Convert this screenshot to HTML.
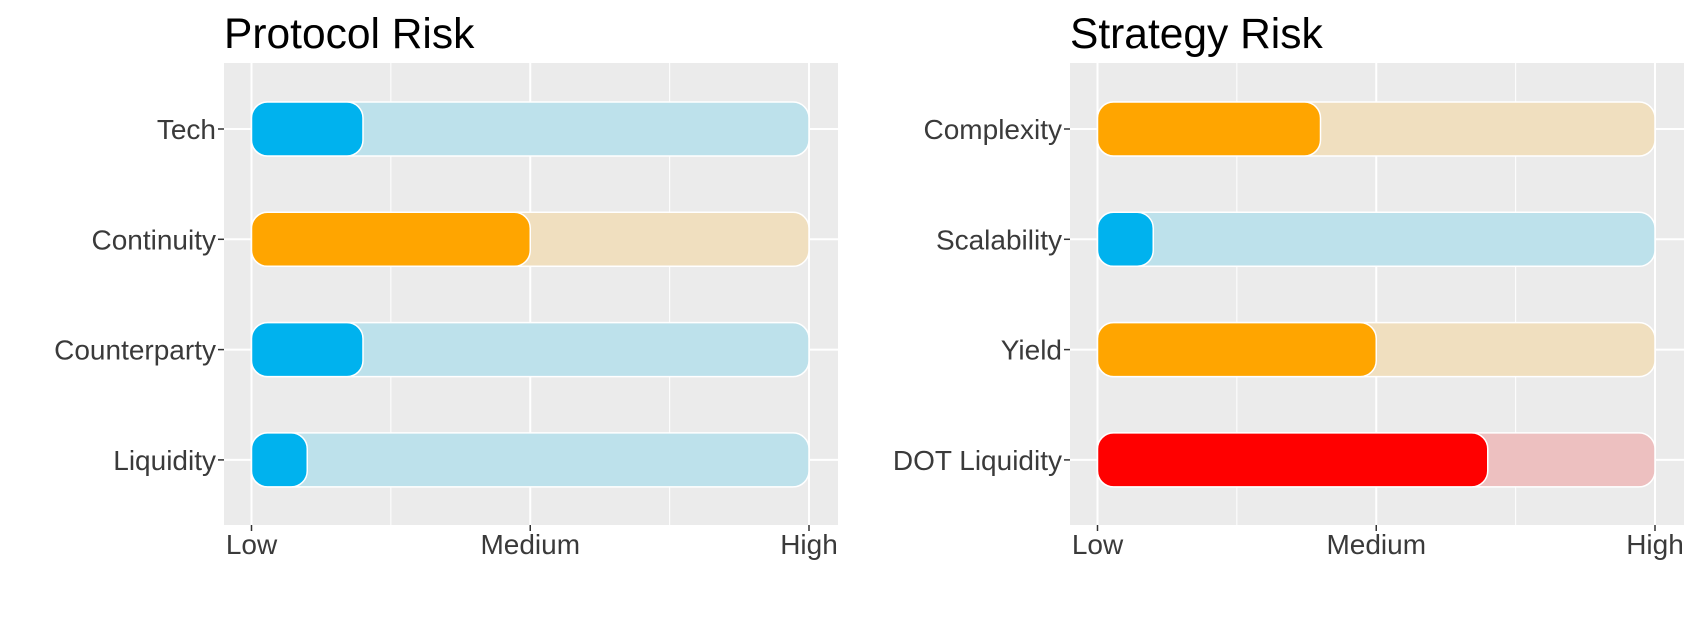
<!DOCTYPE html>
<html><head><meta charset="utf-8"><style>
body{margin:0;background:#fff;}
svg text{font-family:"Liberation Sans",sans-serif;}
</style></head><body>
<svg id="chart" width="1700" height="612"></svg>
<script>
const protocolCategories=["Tech","Continuity","Counterparty","Liquidity"];
const protocolValues=[1.4,2.0,1.4,1.2];
const protocolColors=["blue","orange","blue","blue"];
const strategyCategories=["Complexity","Scalability","Yield","DOT Liquidity"];
const strategyValues=[1.8,1.2,2.0,2.4];
const strategyColors=["orange","blue","orange","red"];
const tickValues=[1,2,3];
const tickLabels=["Low","Medium","High"];
const minorTicks=[1.5,2.5];

const NS="http://www.w3.org/2000/svg";
const svg=document.getElementById('chart');
const pal={blue:["#00b2ee","#bde1eb"],orange:["#ffa500","#f0dfbf"],red:["#ff0000","#edc0c0"]};
function el(tag,attrs,parent){const e=document.createElementNS(NS,tag);for(const k in attrs)e.setAttribute(k,attrs[k]);(parent||svg).appendChild(e);return e;}

function panel(left,title,cats,vals,cols,key){
  const px0=left, px1=left+614, py0=63, py1=525;
  const g=el('g',{});
  
  
  const x=v=>left+27.5+(v-1)*(557.5/2);
  const y=i=>129+i*110.3;
  const t=el('text',{x:left,y:48,'font-size':42.5,fill:'#000'},g);t.textContent=title;
  
  
  const bg=el('rect',{x:px0,y:py0,width:px1-px0,height:py1-py0,fill:'#ebebeb'},g);
  
  
  minorTicks.forEach(v=>{const l=el('line',{x1:x(v),x2:x(v),y1:py0,y2:py1,stroke:'#fff','stroke-width':1},g);
    
    });
  tickValues.forEach((v,i)=>{
    const l=el('line',{x1:x(v),x2:x(v),y1:py0,y2:py1,stroke:'#fff','stroke-width':2},g);
    
    
    el('line',{x1:x(v),x2:x(v),y1:py1,y2:py1+6,stroke:'#333','stroke-width':1.5},g);
    const tl=el('text',{x:x(v),y:554,'font-size':28,fill:'#3a3a3a','text-anchor':'middle'},g);tl.textContent=tickLabels[i];
    
    
  });
  cats.forEach((c,i)=>{
    const yc=y(i);
    const l=el('line',{x1:px0,x2:px1,y1:yc,y2:yc,stroke:'#fff','stroke-width':2},g);
    
    
    el('line',{x1:px0-6,x2:px0,y1:yc,y2:yc,stroke:'#333','stroke-width':1.5},g);
    const lab=el('text',{x:px0-8,y:yc+10,'font-size':28,fill:'#3a3a3a','text-anchor':'end'},g);lab.textContent=c;
    
    
    const b=el('rect',{x:x(1),y:yc-27,width:x(3)-x(1),height:54,rx:16,fill:pal[cols[i]][1],stroke:'#fff','stroke-width':1.5},g);
    
    
    const f=el('rect',{x:x(1),y:yc-27,width:x(vals[i])-x(1),height:54,rx:16,fill:pal[cols[i]][0],stroke:'#fff','stroke-width':1.5},g);
    
    
  });
}
panel(224,"Protocol Risk",protocolCategories,protocolValues,protocolColors,'protocol');
panel(1070,"Strategy Risk",strategyCategories,strategyValues,strategyColors,'strategy');
</script>
</body></html>
